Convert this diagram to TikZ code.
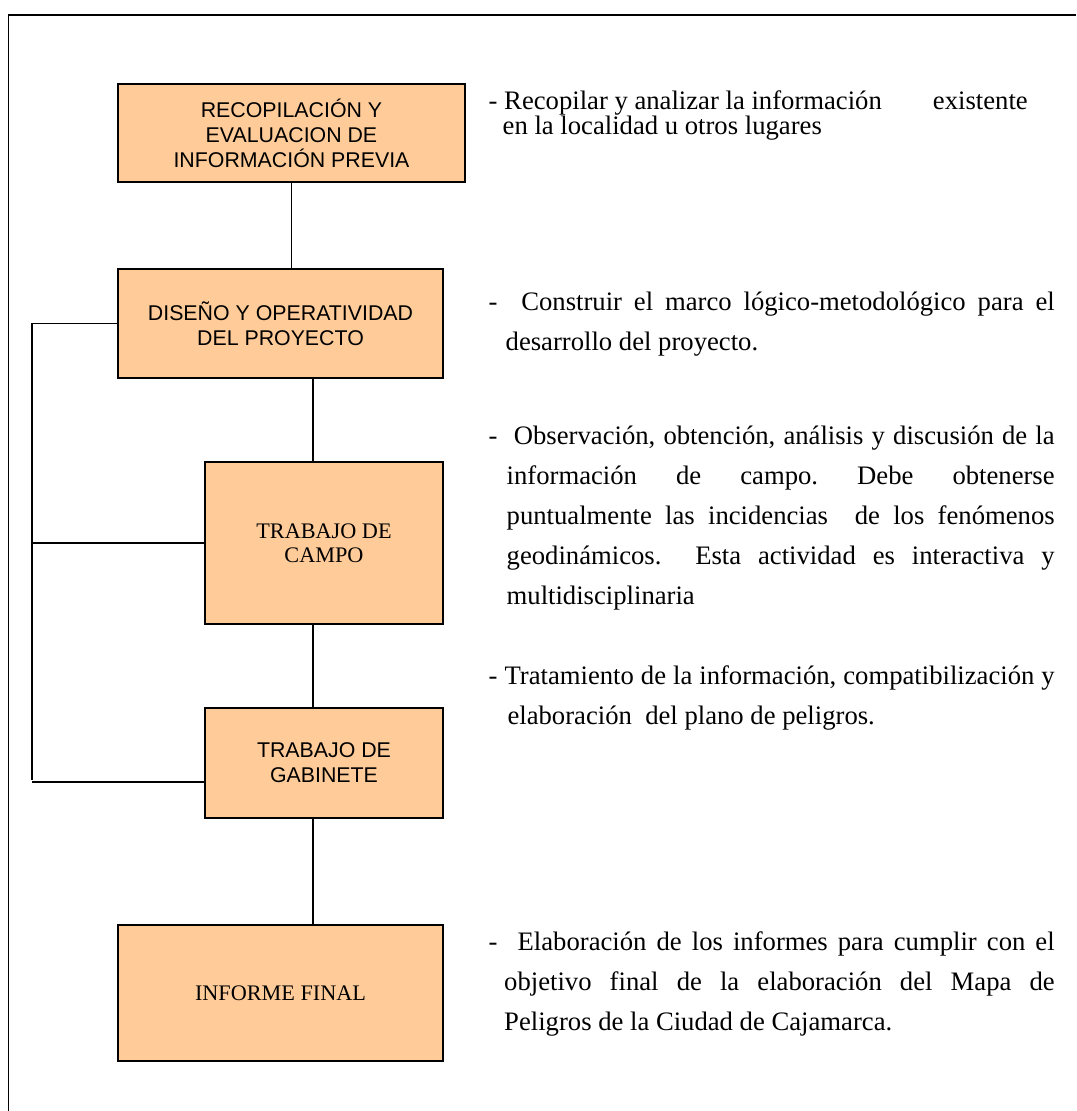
\documentclass[tikz,border=0pt]{standalone}
\usepackage{fontspec}
\setmainfont{Liberation Serif}
\newfontfamily\arial{Liberation Sans}
\usetikzlibrary{positioning}
\definecolor{durazno}{HTML}{FFCC99}
\frenchspacing

\begin{document}
\begin{tikzpicture}[x=0.45pt, y=-0.45pt, line width=0.6pt,
    caja/.style={draw, fill=durazno, line width=0.9pt, align=center, inner sep=0pt},
    sans/.style={font=\arial\fontsize{9.6}{11.25}\selectfont},
    serif/.style={font=\fontsize{10}{11}\selectfont},
    nota/.style={anchor=base west, inner sep=0pt, align=justify,
        text width=254.7pt, font=\fontsize{12}{18}\selectfont}
]
    \useasboundingbox (0,0) rectangle (1076,1111);

    % marco de la pagina
    \draw [line width=0.75pt] (8.5,1111) -- (8.5,15) -- (1076,15);

    \node [caja, sans,
        minimum width=156.15pt,
        minimum height=44.1pt
    ] (recopilacion) at (291.5,133) {RECOPILACIÓN Y\\EVALUACION DE\\INFORMACIÓN PREVIA};

    \node [caja, sans,
        minimum width=146.25pt,
        minimum height=49.05pt,
        below=38.25pt of recopilacion.south west,
        anchor=north west
    ] (diseno) {DISEÑO Y OPERATIVIDAD\\DEL PROYECTO};

    \node [caja, serif,
        minimum width=107.1pt,
        minimum height=72.9pt,
        below=36.9pt of diseno.south east,
        anchor=north east
    ] (campo) {TRABAJO DE\\CAMPO};

    \node [caja, sans,
        minimum width=107.1pt,
        minimum height=49.5pt,
        below=36.9pt of campo
    ] (gabinete) {TRABAJO DE\\GABINETE};

    \node [caja, serif,
        minimum width=146.25pt,
        minimum height=61.2pt,
        below=47.25pt of gabinete.south east,
        anchor=north east
    ] (informe) {INFORME FINAL};

    % lineas entre cajas
    \coordinate (eje) at (313,0);
    \coordinate (riel) at (32,780);
    \draw (recopilacion.south) -- (recopilacion.south |- diseno.north);
    \draw (diseno.south -| eje) -- (campo.north -| eje);
    \draw (campo.south -| eje) -- (gabinete.north -| eje);
    \draw (gabinete.south -| eje) -- (informe.north -| eje);

    % retorno por la izquierda
    \draw (diseno.west) -| (riel);
    \draw (campo.west) -- (campo.west -| riel);
    \draw ([yshift=16.65pt]gabinete.south west) coordinate (gab) -- (gab -| riel);

    % descripciones de cada etapa
    \node [nota, text width=242.55pt, font=\fontsize{12}{11.5}\selectfont] (nota1) at (488,109)
        {\hangindent=6.3pt\hangafter=1 - Recopilar y analizar la información\hfill existente\linebreak
        en la localidad u otros lugares\par};
    \node [nota] (nota2) at (488,310)
        {\hangindent=7.65pt\hangafter=1 -\ \ Construir el marco lógico-metodológico para el\linebreak
        desarrollo del proyecto.\par};
    \node [nota] (nota3) at (488,444)
        {\hangindent=8.1pt\hangafter=1 -\ \ Observación, obtención, análisis y discusión de la\linebreak
        información de campo. Debe obtenerse\linebreak
        puntualmente las incidencias\ \ de los fenómenos\linebreak
        geodinámicos.\ \ Esta actividad es interactiva y\linebreak
        multidisciplinaria\par};
    \node [nota] (nota4) at (488,684)
        {\hangindent=8.5pt\hangafter=1 - Tratamiento de la información, compatibilización y\linebreak
        elaboración\ \ del plano de peligros.\par};
    \node [nota] (nota5) at (488,950)
        {\hangindent=7pt\hangafter=1 -\ \ Elaboración de los informes para cumplir con el\linebreak
        objetivo final de la elaboración del Mapa de\linebreak
        Peligros de la Ciudad de Cajamarca.\par};

\end{tikzpicture}
\end{document}
